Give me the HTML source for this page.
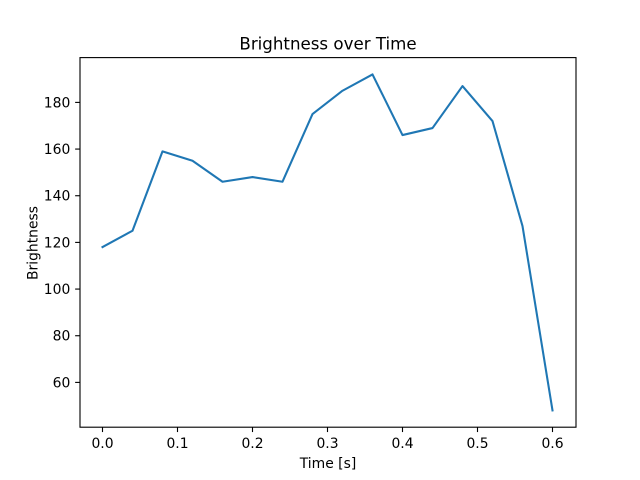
<!DOCTYPE html>
<html><head><meta charset="utf-8"><style>
html,body{margin:0;padding:0;background:#fff;}
svg{display:block;}
text{font-family:"DejaVu Sans","Liberation Sans",sans-serif;fill:#000;}
</style></head><body>
<svg width="640" height="480" viewBox="0 0 640 480" xmlns="http://www.w3.org/2000/svg">
<rect x="0" y="0" width="640" height="480" fill="#fff"/>
<polyline fill="none" stroke="#1f77b4" stroke-width="2.08" stroke-linejoin="round" stroke-linecap="square"
points="102.5,247.07 132.5,230.73 162.5,151.4 192.5,160.73 222.5,181.73 252.5,177.07 282.5,181.73 312.5,114.07 342.5,90.73 372.5,74.4 402.5,135.07 432.5,128.07 462.5,86.07 492.5,121.07 522.5,226.07 552.5,410.4"/>
<rect x="80" y="57.6" width="496" height="369.6" fill="none" stroke="#000" stroke-width="1.11"/>
<g stroke="#000" stroke-width="1.11">
<line x1="102.5" y1="427.2" x2="102.5" y2="432.06"/>
<line x1="177.5" y1="427.2" x2="177.5" y2="432.06"/>
<line x1="252.5" y1="427.2" x2="252.5" y2="432.06"/>
<line x1="327.5" y1="427.2" x2="327.5" y2="432.06"/>
<line x1="402.5" y1="427.2" x2="402.5" y2="432.06"/>
<line x1="477.5" y1="427.2" x2="477.5" y2="432.06"/>
<line x1="552.5" y1="427.2" x2="552.5" y2="432.06"/>
<line x1="75.14" y1="382.4" x2="80" y2="382.4"/>
<line x1="75.14" y1="335.73" x2="80" y2="335.73"/>
<line x1="75.14" y1="289.07" x2="80" y2="289.07"/>
<line x1="75.14" y1="242.4" x2="80" y2="242.4"/>
<line x1="75.14" y1="195.73" x2="80" y2="195.73"/>
<line x1="75.14" y1="149.07" x2="80" y2="149.07"/>
<line x1="75.14" y1="102.4" x2="80" y2="102.4"/>
</g>
<g font-size="13.9" text-anchor="middle">
<text x="102.5" y="448">0.0</text>
<text x="177.5" y="448">0.1</text>
<text x="252.5" y="448">0.2</text>
<text x="327.5" y="448">0.3</text>
<text x="402.5" y="448">0.4</text>
<text x="477.5" y="448">0.5</text>
<text x="552.5" y="448">0.6</text>
</g>
<g font-size="13.9" text-anchor="end">
<text x="70.3" y="387.4">60</text>
<text x="70.3" y="340.7">80</text>
<text x="70.3" y="294.1">100</text>
<text x="70.3" y="247.4">120</text>
<text x="70.3" y="200.7">140</text>
<text x="70.3" y="154.1">160</text>
<text x="70.3" y="107.4">180</text>
</g>
<text x="328" y="468" font-size="13.9" text-anchor="middle">Time [s]</text>
<text transform="translate(37.5,243) rotate(-90)" font-size="13.9" text-anchor="middle">Brightness</text>
<text x="328" y="49.3" font-size="16.67" text-anchor="middle">Brightness over Time</text>
</svg>
</body></html>
